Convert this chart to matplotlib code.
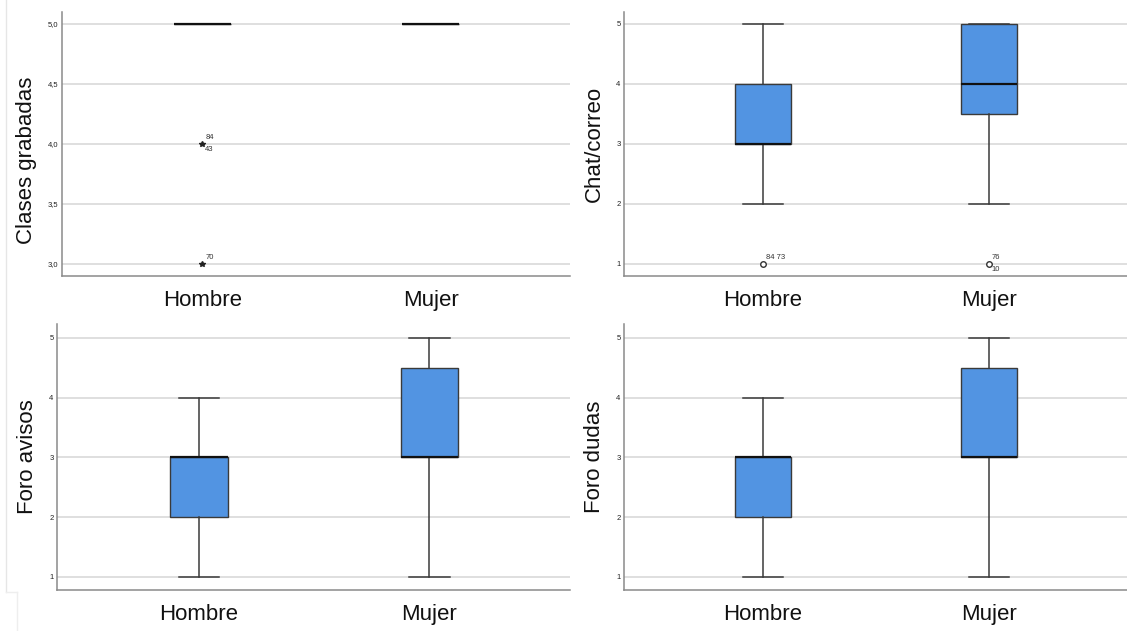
import matplotlib
matplotlib.use('Agg')
import matplotlib.pyplot as plt
from matplotlib.lines import Line2D

plt.rcParams['font.family'] = ['Liberation Sans', 'DejaVu Sans']

groups = ['Hombre', 'Mujer']

# box stats per panel: whislo, q1, med, q3, whishi
clases_stats = [[5, 5, 5, 5, 5], [5, 5, 5, 5, 5]]
chat_stats = [[2, 3, 3, 4, 5], [2, 3.5, 4, 5, 5]]
avisos_stats = [[1, 2, 3, 3, 4], [1, 3, 3, 4.5, 5]]
dudas_stats = [[1, 2, 3, 3, 4], [1, 3, 3, 4.5, 5]]

# outliers: (group index, value, label above, label below, marker)
clases_out = [(0, 4.0, '84', '43', '*'), (0, 3.0, '70', '', '*')]
chat_out = [(0, 1.0, '84 73', '', 'o'), (1, 1.0, '76', '10', 'o')]

panels = [
    ('Clases grabadas', clases_stats, clases_out, [3.0, 3.5, 4.0, 4.5, 5.0], (2.9, 5.1), True,
     [62, 12, 570, 276], 0.44),
    ('Chat/correo', chat_stats, chat_out, [1, 2, 3, 4, 5], (0.8, 5.2), False,
     [624, 12, 1127, 276], 0.5),
    ('Foro avisos', avisos_stats, [], [1, 2, 3, 4, 5], (0.78, 5.23), False,
     [57, 324, 570, 590], 0.5),
    ('Foro dudas', dudas_stats, [], [1, 2, 3, 4, 5], (0.78, 5.23), False,
     [624, 324, 1127, 590], 0.5),
]

W, H = 1127, 631
fig = plt.figure(figsize=(W / 100, H / 100), dpi=100)
fig.patch.set_facecolor('white')

box_col = '#5294E2'
edge_col = '#3a3a3a'
grid_col = '#d9d9d9'
spine_col = '#8a8a8a'

for label, stats, outs, ticks, ylim, decimal, (x0, y0, x1, y1), label_y in panels:
    ax = fig.add_axes([x0 / W, 1 - y1 / H, (x1 - x0) / W, (y1 - y0) / H])
    bstats = []
    for g, s in zip(groups, stats):
        bstats.append(dict(label=g, whislo=s[0], q1=s[1], med=s[2], q3=s[3], whishi=s[4], fliers=[]))
    ax.bxp(bstats, positions=[1, 2], widths=0.25, capwidths=0.175, patch_artist=True,
           showfliers=False,
           boxprops=dict(facecolor=box_col, edgecolor=edge_col, linewidth=1.0),
           medianprops=dict(color='#111111', linewidth=1.6),
           whiskerprops=dict(color=edge_col, linewidth=1.1),
           capprops=dict(color=edge_col, linewidth=1.1), zorder=3)
    for gi, v, above, below, mk in outs:
        if mk == '*':
            ax.plot(gi + 1, v, marker='*', color='#222222', markersize=4, zorder=4, linestyle='none')
        else:
            ax.plot(gi + 1, v, marker='o', markerfacecolor='white', markeredgecolor='#333333',
                    markersize=4, markeredgewidth=1.0, zorder=4, linestyle='none')
        if above:
            ax.annotate(above, (gi + 1, v), xytext=(2, 2), textcoords='offset points',
                        fontsize=5.5, color='#333333', ha='left', va='bottom')
        if below:
            ax.annotate(below, (gi + 1, v), xytext=(2, -1.5), textcoords='offset points',
                        fontsize=5.5, color='#333333', ha='left', va='top')

    ax.set_xlim(0.385, 2.61)
    ax.set_ylim(*ylim)
    ax.set_yticks(ticks)
    if decimal:
        ax.set_yticklabels([f'{t:.1f}'.replace('.', ',') for t in ticks])
    else:
        ax.set_yticklabels([str(t) for t in ticks])
    ax.set_xticks([1, 2])
    ax.set_xticklabels(groups, fontsize=16)
    ax.tick_params(axis='y', length=0, labelsize=5.5, labelcolor='#222222', pad=2.5)
    ax.tick_params(axis='x', length=0, pad=10, labelcolor='#111111')
    ax.yaxis.grid(True, color=grid_col, linewidth=1.2, zorder=0)
    ax.set_axisbelow(True)
    for side in ['top', 'right']:
        ax.spines[side].set_visible(False)
    for side in ['left', 'bottom']:
        ax.spines[side].set_color(spine_col)
        ax.spines[side].set_linewidth(1.1)
    ax.set_ylabel(label, fontsize=16, color='#111111', labelpad=8)
    ax.yaxis.label.set_y(label_y)

# faint frame edges from the pasted screenshots
fig.add_artist(Line2D([6 / W, 6 / W], [1 - 592 / H, 1.0], color='#e6e6e6', linewidth=1))
fig.add_artist(Line2D([6 / W, 17 / W], [1 - 592 / H, 1 - 592 / H], color='#eeeeee', linewidth=1))
fig.add_artist(Line2D([17 / W, 17 / W], [0, 1 - 592 / H], color='#eeeeee', linewidth=1))

fig.savefig('out.png', dpi=100, facecolor='white')
